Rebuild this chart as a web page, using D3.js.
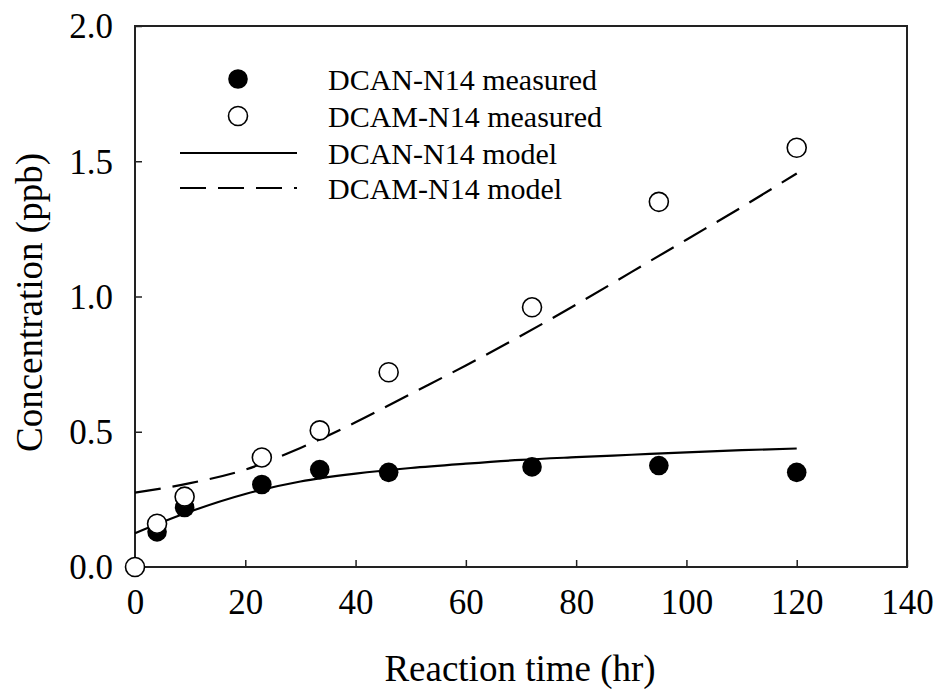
<!DOCTYPE html>
<html>
<head>
<meta charset="utf-8">
<script src="https://cdn.jsdelivr.net/npm/d3@7"></script>
<style>
  html, body { margin: 0; padding: 0; background: #fff; }
  text { font-family: "Liberation Serif", "Times New Roman", serif; fill: #000; }
</style>
</head>
<body>
<svg id="chart" width="939" height="689"></svg>
<script>
// ---- data ----
const measTime = [4, 9, 23, 33.5, 46, 72, 95, 120];
const dcanMeasured = [0.13, 0.22, 0.305, 0.36, 0.35, 0.37, 0.375, 0.35];
const dcamTime = [0, 4, 9, 23, 33.5, 46, 72, 95, 120];
const dcamMeasured = [0.0, 0.16, 0.26, 0.405, 0.505, 0.72, 0.96, 1.35, 1.55];
const modelTime = [0, 10, 20, 30, 40, 50, 60, 70, 80, 90, 100, 110, 120];
const dcanModel = [0.125, 0.205, 0.27, 0.316, 0.345, 0.366, 0.382, 0.396, 0.406, 0.415, 0.424, 0.432, 0.438];
const dcamModel = [0.275, 0.31, 0.36, 0.44, 0.535, 0.64, 0.745, 0.855, 0.97, 1.09, 1.21, 1.33, 1.455];
const xTicks = [0, 20, 40, 60, 80, 100, 120, 140];
const yTicks = [0.0, 0.5, 1.0, 1.5, 2.0];
const legendLabels = ["DCAN-N14 measured", "DCAM-N14 measured", "DCAN-N14 model", "DCAM-N14 model"];

// ---- layout ----
const L = 135, R = 907, T = 26, B = 567;
const svg = d3.select("#chart");
const x = d3.scaleLinear().domain([0, 140]).range([L, R]);
const y = d3.scaleLinear().domain([0, 2]).range([B, T]);

// axes (inward ticks)
const xAxis = svg.append("g").attr("transform", `translate(0,${B})`)
  .call(d3.axisBottom(x).tickValues(xTicks).tickFormat(d3.format("d")).tickSizeInner(-7).tickSizeOuter(0).tickPadding(22));
const yAxis = svg.append("g").attr("transform", `translate(${L},0)`)
  .call(d3.axisLeft(y).tickValues(yTicks).tickFormat(d3.format(".1f")).tickSizeInner(-7).tickSizeOuter(0).tickPadding(22));
[xAxis, yAxis].forEach(g => {
  g.select(".domain").remove();
  g.selectAll(".tick line").attr("stroke", "#222").attr("stroke-width", 1.5);
  g.selectAll(".tick text").style("font-family", "Liberation Serif, serif").style("font-size", "35px").attr("fill", "#000");
});
xAxis.selectAll(".tick text").attr("dy", "0.71em");
yAxis.selectAll(".tick text").attr("dy", "0.34em");

// frame
svg.append("rect").attr("x", L).attr("y", T).attr("width", R - L).attr("height", B - T)
  .attr("fill", "none").attr("stroke", "#222").attr("stroke-width", 2);

// model lines
const line = d3.line().curve(d3.curveMonotoneX);
svg.append("path")
  .attr("d", line(modelTime.map((t, i) => [x(t), y(dcanModel[i])])))
  .attr("fill", "none").attr("stroke", "#000").attr("stroke-width", 2.2);
svg.append("path")
  .attr("d", line(modelTime.map((t, i) => [x(t), y(dcamModel[i])])))
  .attr("fill", "none").attr("stroke", "#000").attr("stroke-width", 2.2)
  .attr("stroke-dasharray", "26,12");

// markers
svg.append("g").selectAll("circle").data(measTime).join("circle")
  .attr("cx", (d) => x(d)).attr("cy", (d, i) => y(dcanMeasured[i])).attr("r", 9.8)
  .attr("fill", "#000");
svg.append("g").selectAll("circle").data(dcamTime).join("circle")
  .attr("cx", (d) => x(d)).attr("cy", (d, i) => y(dcamMeasured[i])).attr("r", 9.5)
  .attr("fill", "#fff").attr("stroke", "#000").attr("stroke-width", 1.6);

// legend
const legY = [79, 116, 153, 188];
const lg = svg.append("g");
lg.append("circle").attr("cx", 238).attr("cy", legY[0]).attr("r", 9.8).attr("fill", "#000");
lg.append("circle").attr("cx", 238).attr("cy", legY[1]).attr("r", 9.5).attr("fill", "#fff").attr("stroke", "#000").attr("stroke-width", 1.6);
lg.append("line").attr("x1", 180).attr("x2", 297).attr("y1", legY[2]).attr("y2", legY[2]).attr("stroke", "#000").attr("stroke-width", 2.2);
lg.append("line").attr("x1", 180).attr("x2", 297).attr("y1", legY[3]).attr("y2", legY[3]).attr("stroke", "#000").attr("stroke-width", 2.2).attr("stroke-dasharray", "26,12");
lg.selectAll("text").data(legendLabels).join("text")
  .attr("x", 328).attr("y", (d, i) => legY[i] + 11)
  .style("font-size", "30px").text(d => d);

// axis titles
svg.append("text").attr("x", (L + R) / 2 - 1).attr("y", 681).attr("text-anchor", "middle")
  .style("font-size", "37px").text("Reaction time (hr)");
svg.append("text").attr("transform", `translate(42,${(T + B) / 2 + 6}) rotate(-90)`).attr("text-anchor", "middle")
  .style("font-size", "37px").text("Concentration (ppb)");
</script>
</body>
</html>
